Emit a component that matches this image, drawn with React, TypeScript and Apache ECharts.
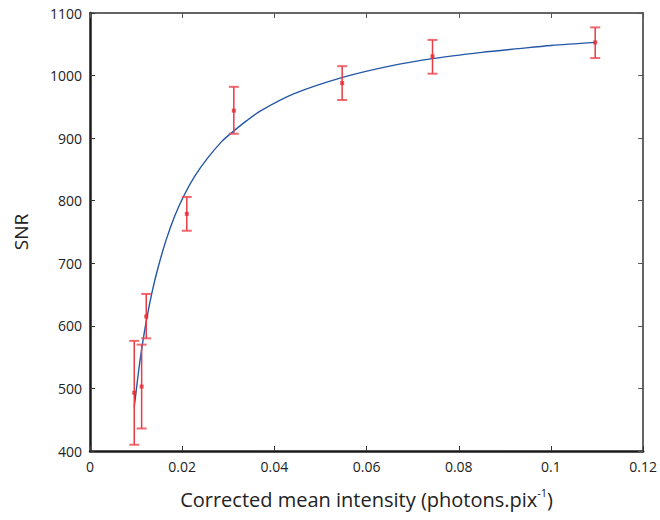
import React, { useEffect, useRef } from "react";
import * as echarts from "echarts";

// Measured points: intensity, SNR, lower and upper error bar ends
const intensity = [0.0096, 0.0112, 0.0122, 0.021, 0.0312, 0.0547, 0.0743, 0.1096];
const snr = [493, 503, 615, 779, 944, 988, 1031, 1053];
const errLow = [410, 436, 580, 752, 907, 961, 1003, 1028];
const errHigh = [576, 570, 651, 806, 982, 1015, 1057, 1077];

// Fitted curve
const fitX = [0.0096, 0.0105, 0.0112, 0.0122, 0.0135, 0.0148, 0.0165, 0.0184, 0.0205, 0.0227, 0.0255, 0.0285, 0.0303, 0.034, 0.0371, 0.0443, 0.0548, 0.065, 0.0743, 0.085, 0.093, 0.1, 0.1096];
const fitY = [470, 525, 562, 607, 655, 694, 737, 776, 810, 839, 868, 894, 906, 928, 944, 971, 997, 1015, 1027, 1037, 1043, 1048, 1053];

const xTicks = [0, 0.02, 0.04, 0.06, 0.08, 0.1, 0.12];
const yTicks = [400, 500, 600, 700, 800, 900, 1000, 1100];

const FONT = "'Open Sans', 'Noto Sans', sans-serif";

export default function App() {
  const ref = useRef<HTMLDivElement>(null);
  useEffect(() => {
    if (!ref.current) return;
    const chart = echarts.init(ref.current, null, { renderer: "svg" });
    const errData = intensity.map((x, i) => [x, errLow[i], errHigh[i]]);
    const baseAxisX = {
      type: "value",
      min: xTicks[0],
      max: xTicks[xTicks.length - 1],
      interval: 0.02,
      splitLine: { show: false },
    };
    const baseAxisY = {
      type: "value",
      min: yTicks[0],
      max: yTicks[yTicks.length - 1],
      interval: 100,
      splitLine: { show: false },
    };
    chart.setOption({
      animation: false,
      backgroundColor: "#ffffff",
      grid: { left: 90, right: 15, top: 13, bottom: 69 },
      xAxis: [
        {
          ...baseAxisX,
          position: "bottom",
          name: "{a|Corrected mean intensity (photons.pix}{s|-1}{a|)}",
          nameLocation: "middle",
          nameGap: 36,
          nameTextStyle: {
            rich: {
              a: { fontSize: 20, fontFamily: FONT, color: "#222", lineHeight: 24 },
              s: { fontSize: 11, fontFamily: FONT, color: "#222", lineHeight: 24, verticalAlign: "top", padding: [0, 0, 9, 0] },
            },
          },
          axisLine: { show: true, onZero: false, lineStyle: { color: "#1a1a1a", width: 2.5 } },
          axisTick: { show: true, inside: true, length: 5, lineStyle: { color: "#333", width: 1 } },
          axisLabel: {
            fontSize: 14,
            fontFamily: FONT,
            color: "#222",
            margin: 8,
            formatter: (v: number) => String(parseFloat(v.toFixed(2))),
          },
        },
        {
          ...baseAxisX,
          position: "top",
          axisLine: { show: true, onZero: false, lineStyle: { color: "#333", width: 1.5 } },
          axisTick: { show: true, inside: true, length: 5, lineStyle: { color: "#555", width: 1 } },
          axisLabel: { show: false },
        },
      ],
      yAxis: [
        {
          ...baseAxisY,
          position: "left",
          name: "SNR",
          nameLocation: "middle",
          nameGap: 60,
          nameRotate: 90,
          nameTextStyle: { fontSize: 19, fontFamily: FONT, color: "#222" },
          axisLine: { show: true, onZero: false, lineStyle: { color: "#1a1a1a", width: 2.5 } },
          axisTick: { show: true, inside: true, length: 5, lineStyle: { color: "#333", width: 1 } },
          axisLabel: {
            fontSize: 14,
            fontFamily: FONT,
            color: "#222",
            margin: 8,
            formatter: (v: number) => String(v),
          },
        },
        {
          ...baseAxisY,
          position: "right",
          axisLine: { show: true, onZero: false, lineStyle: { color: "#333", width: 1.5 } },
          axisTick: { show: true, inside: true, length: 5, lineStyle: { color: "#555", width: 1 } },
          axisLabel: { show: false },
        },
      ],
      series: [
        {
          type: "line",
          data: fitX.map((x, i) => [x, fitY[i]]),
          smooth: 0.3,
          showSymbol: false,
          symbol: "none",
          lineStyle: { color: "#2457a6", width: 1.4 },
          z: 2,
        },
        {
          type: "custom",
          data: errData,
          renderItem: (params: any, api: any) => {
            const x = api.value(0);
            const lo = api.coord([x, api.value(1)]);
            const hi = api.coord([x, api.value(2)]);
            const hw = 5;
            return {
              type: "group",
              children: [
                {
                  type: "line",
                  shape: { x1: lo[0], y1: lo[1], x2: hi[0], y2: hi[1] },
                  style: { stroke: "#ea3a42", lineWidth: 1.5 },
                },
                {
                  type: "line",
                  shape: { x1: lo[0] - hw, y1: lo[1], x2: lo[0] + hw, y2: lo[1] },
                  style: { stroke: "rgba(236,70,78,0.8)", lineWidth: 2 },
                },
                {
                  type: "line",
                  shape: { x1: hi[0] - hw, y1: hi[1], x2: hi[0] + hw, y2: hi[1] },
                  style: { stroke: "rgba(236,70,78,0.8)", lineWidth: 2 },
                },
              ],
            };
          },
          z: 3,
        },
        {
          type: "scatter",
          data: intensity.map((x, i) => [x, snr[i]]),
          symbol: "rect",
          symbolSize: 4,
          itemStyle: { color: "#e22a32" },
          z: 4,
        },
      ],
    });
    return () => chart.dispose();
  }, []);
  return (
    <div
      ref={ref}
      style={{ position: "fixed", left: 0, top: 0, width: 660, height: 520, background: "#fff" }}
    />
  );
}
